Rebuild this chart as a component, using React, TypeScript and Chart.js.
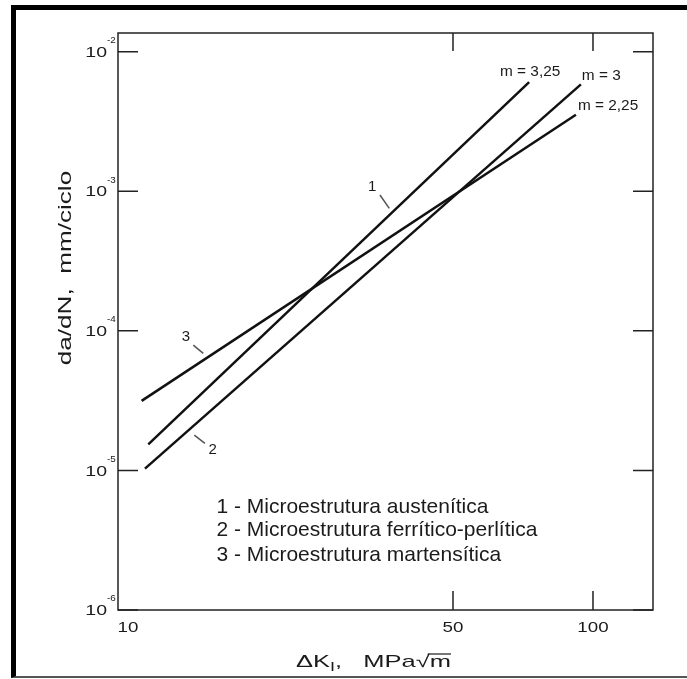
import React, { useEffect, useRef } from 'react';
import { Chart, registerables } from 'chart.js';

Chart.register(...registerables);

// ---- data ----
const xRange = [9.52, 134.6];
const yRange = [1e-6, 1.36e-2];
const xTicks = [10, 50, 100];
const xTickMarks = [50, 100];
const yTicks = [1e-6, 1e-5, 1e-4, 1e-3, 1e-2];

const line1K = [11.06, 72.9];
const line1Rate = [1.535e-5, 6.04e-3];
const line2K = [10.88, 94.2];
const line2Rate = [1.03e-5, 5.83e-3];
const line3K = [10.7, 91.9];
const line3Rate = [3.15e-5, 3.53e-3];

const slopeLabels = ['m = 3,25', 'm = 3', 'm = 2,25'];
const slopeLabelK = [63.1, 94.6, 92.8];
const slopeLabelRate = [7.15e-3, 6.7e-3, 4.06e-3];

const curveIds = ['1', '2', '3'];
const curveIdK = [33.5, 15.21, 13.33];
const curveIdRate = [1.076e-3, 1.41e-5, 9.06e-5];
const leader1K = [34.83, 36.47];
const leader1Rate = [9.39e-4, 7.54e-4];
const leader2K = [13.89, 14.64];
const leader2Rate = [1.787e-5, 1.56e-5];
const leader3K = [13.82, 14.52];
const leader3Rate = [7.9e-5, 6.89e-5];

const legendItems = [
  '1 - Microestrutura austenítica',
  '2 - Microestrutura ferrítico-perlítica',
  '3 - Microestrutura martensítica',
];
const legendK = 15.5;
const legendRate = [5.45e-6, 3.72e-6, 2.47e-6];

const yTitle = 'da/dN,  mm/ciclo';

const FONT = "'Liberation Sans', Arial, sans-serif";
const TEXT = '#1b1b1b';

function pts(xs: number[], ys: number[]) {
  return xs.map((x, i) => ({ x, y: ys[i] }));
}

function drawText(
  ctx: CanvasRenderingContext2D,
  text: string,
  x: number,
  y: number,
  size: number,
  align: 'left' | 'center' | 'right',
  sx = 1
) {
  ctx.save();
  ctx.font = `${size}px ${FONT}`;
  ctx.textBaseline = 'middle';
  ctx.textAlign = 'left';
  const w = ctx.measureText(text).width * sx;
  let left = x;
  if (align === 'center') left = x - w / 2;
  else if (align === 'right') left = x - w;
  ctx.translate(left, y);
  ctx.scale(sx, 1);
  ctx.fillStyle = TEXT;
  ctx.fillText(text, 0, 0);
  ctx.restore();
  return w;
}

const decorPlugin = {
  id: 'decor',
  afterDatasetsDraw(chart: any) {
    const { ctx, chartArea, scales } = chart;
    const xs = scales.x;
    const ys = scales.y;
    const { left, right, top, bottom } = chartArea;
    ctx.save();
    // box
    ctx.strokeStyle = '#222';
    ctx.lineWidth = 1.5;
    ctx.strokeRect(left, top, right - left, bottom - top);
    // inward ticks
    ctx.beginPath();
    yTicks.forEach((v) => {
      const y = ys.getPixelForValue(v);
      ctx.moveTo(left, y);
      ctx.lineTo(left + 20, y);
      ctx.moveTo(right - 20, y);
      ctx.lineTo(right, y);
    });
    xTickMarks.forEach((v) => {
      const x = xs.getPixelForValue(v);
      ctx.moveTo(x, bottom);
      ctx.lineTo(x, bottom - 19);
      ctx.moveTo(x, top);
      ctx.lineTo(x, top + 18);
    });
    ctx.stroke();

    // y tick labels
    ys.ticks.forEach((t: any) => {
      const y = ys.getPixelForValue(t.value);
      const e = Math.round(Math.log10(t.value));
      drawText(ctx, '10', left - 11, y + 1, 15, 'right', 1.3);
      drawText(ctx, `${e < 0 ? '-' : ''}${Math.abs(e)}`, left - 11, y - 11, 9, 'left', 1.1);
    });
    // x tick labels
    xs.ticks.forEach((t: any) => {
      const x = xs.getPixelForValue(t.value);
      drawText(ctx, String(t.value), x, bottom + 18, 15, 'center', 1.25);
    });

    // slope labels
    slopeLabels.forEach((s, i) => {
      drawText(ctx, s, xs.getPixelForValue(slopeLabelK[i]), ys.getPixelForValue(slopeLabelRate[i]), 14, 'left', 1.1);
    });
    // curve ids
    curveIds.forEach((s, i) => {
      drawText(ctx, s, xs.getPixelForValue(curveIdK[i]), ys.getPixelForValue(curveIdRate[i]), 15, 'center', 1.0);
    });
    // legend
    legendItems.forEach((s, i) => {
      drawText(ctx, s, xs.getPixelForValue(legendK), ys.getPixelForValue(legendRate[i]), 21, 'left', 1.0);
    });

    // x title: ΔK_I,   MPa√m
    const titleY = bottom + 52;
    const size = 17;
    const sx = 1.5;
    const parts = [
      { t: 'ΔK', s: size, dy: 0 },
      { t: 'I', s: 12, dy: 6 },
      { t: ',   MPa', s: size, dy: 0 },
      { t: '√', s: size, dy: 0 },
      { t: 'm', s: size, dy: 0 },
    ];
    let total = 0;
    const widths = parts.map((p) => {
      ctx.font = `${p.s}px ${FONT}`;
      const w = ctx.measureText(p.t).width * sx;
      total += w;
      return w;
    });
    let cx = (left + right) / 2 - 12 - total / 2;
    parts.forEach((p, i) => {
      drawText(ctx, p.t, cx, titleY + p.dy, p.s, 'left', sx);
      if (p.t === 'm') {
        ctx.strokeStyle = TEXT;
        ctx.lineWidth = 1.2;
        ctx.beginPath();
        ctx.moveTo(cx - 2, titleY - 8);
        ctx.lineTo(cx + widths[i], titleY - 8);
        ctx.stroke();
      }
      cx += widths[i];
    });

    // y title (rotated)
    ctx.save();
    ctx.translate(left - 52, top + 235);
    ctx.rotate(-Math.PI / 2);
    drawText(ctx, yTitle, 0, 0, 18, 'center', 1.45);
    ctx.restore();

    ctx.restore();
  },
};

export default function App() {
  const ref = useRef<HTMLCanvasElement>(null);

  useEffect(() => {
    if (!ref.current) return;
    const lineDs = (xs: number[], ys: number[], color: string, width: number) => ({
      data: pts(xs, ys),
      borderColor: color,
      backgroundColor: color,
      borderWidth: width,
      pointRadius: 0,
      fill: false,
      tension: 0,
    });
    const chart = new Chart(ref.current, {
      type: 'line',
      data: {
        datasets: [
          lineDs(line1K, line1Rate, '#111', 2.5),
          lineDs(line2K, line2Rate, '#111', 2.5),
          lineDs(line3K, line3Rate, '#111', 2.5),
          lineDs(leader1K, leader1Rate, '#555', 1.5),
          lineDs(leader2K, leader2Rate, '#555', 1.5),
          lineDs(leader3K, leader3Rate, '#555', 1.5),
        ],
      },
      options: {
        responsive: false,
        animation: false,
        devicePixelRatio: 1,
        layout: { padding: { left: 0, top: 33, right: 34, bottom: 0 } },
        plugins: { legend: { display: false }, tooltip: { enabled: false } },
        scales: {
          x: {
            type: 'logarithmic',
            min: xRange[0],
            max: xRange[1],
            grid: { display: false },
            border: { display: false },
            ticks: { display: false },
            afterBuildTicks: (s: any) => {
              s.ticks = xTicks.map((v) => ({ value: v }));
            },
            afterFit: (s: any) => {
              s.height = 69;
            },
          },
          y: {
            type: 'logarithmic',
            min: yRange[0],
            max: yRange[1],
            grid: { display: false },
            border: { display: false },
            ticks: { display: false },
            afterBuildTicks: (s: any) => {
              s.ticks = yTicks.map((v) => ({ value: v }));
            },
            afterFit: (s: any) => {
              s.width = 118;
            },
          },
        },
      } as any,
      plugins: [decorPlugin],
    });
    return () => chart.destroy();
  }, []);

  return (
    <div
      style={{
        position: 'absolute',
        left: 0,
        top: 0,
        width: 687,
        height: 679,
        overflow: 'hidden',
        background: '#fff',
      }}
    >
      <canvas
        ref={ref}
        width={687}
        height={679}
        style={{ position: 'absolute', left: 0, top: 0, display: 'block' }}
      />
      <div
        style={{
          position: 'absolute',
          left: 11,
          top: 5,
          width: 720,
          height: 673,
          boxSizing: 'border-box',
          borderLeft: '5px solid #000',
          borderTop: '5px solid #000',
          borderBottom: '2px solid #555',
          pointerEvents: 'none',
        }}
      />
    </div>
  );
}
